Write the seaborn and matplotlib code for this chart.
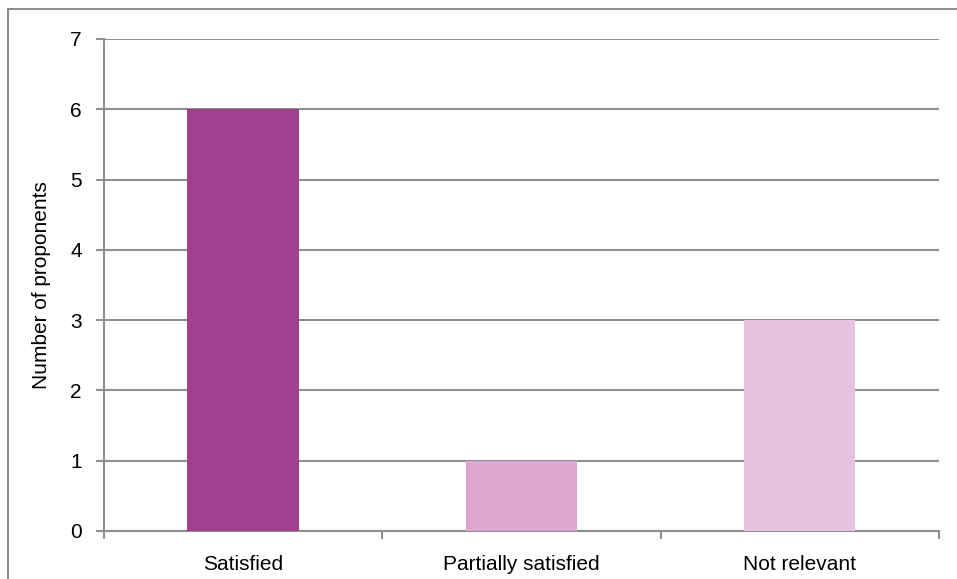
import seaborn as sns
import numpy as np
import matplotlib.pyplot as plt
import pandas as pd
from matplotlib.patches import Rectangle

categories = ["Satisfied", "Partially satisfied", "Not relevant"]
values = [6, 1, 3]
bar_colors = ["#A0418F", "#DDA6CF", "#E7C3E1"]
y_ticks = [0, 1, 2, 3, 4, 5, 6, 7]

sns.set_theme(style='white')
plt.rcParams['font.family'] = ['Liberation Sans', 'DejaVu Sans']

grid_gray = "#8F8F8F"

df = pd.DataFrame({"category": categories, "value": values})

fig = plt.figure(figsize=(9.57, 5.79), dpi=100)
ax = fig.add_axes([104/957, 48/579, (939-104)/957, (531-39)/579])

sns.barplot(data=df, x="category", y="value", hue="category",
            palette=bar_colors, width=0.4, saturation=1, legend=False,
            linewidth=0, edgecolor='none', ax=ax, zorder=3)

ax.set_xlim(-0.5, 2.5)
ax.set_ylim(0, 7)
ax.set_yticks(y_ticks)
ax.set_yticklabels([str(v) for v in y_ticks])

# gridlines
ax.yaxis.grid(True, color=grid_gray, linewidth=1.5, zorder=0)
ax.set_axisbelow(True)

# spines
for s in ['top', 'right']:
    ax.spines[s].set_visible(False)
for s in ['left', 'bottom']:
    ax.spines[s].set_color(grid_gray)
    ax.spines[s].set_linewidth(1.5)

# ticks: y outward, x ticks at the category boundaries
ax.tick_params(axis='y', direction='out', length=6, width=1.5, color=grid_gray,
               labelsize=15, pad=10, left=True, labelcolor='black')
ax.set_xticks([0, 1, 2])
ax.set_xticklabels(categories)
ax.set_xticks([-0.5, 0.5, 1.5, 2.5], minor=True)
ax.tick_params(axis='x', which='major', length=0, labelsize=15, pad=17,
               labelcolor='black')
ax.tick_params(axis='x', which='minor', direction='out', length=6, width=1.5,
               color=grid_gray, bottom=True)

ax.set_xlabel("")
ax.set_ylabel("Number of proponents", fontsize=15, color='black', labelpad=14)

# outer chart border
fig.patches.append(Rectangle((8/957, -0.1), 1.2, 1 - 9/579 + 0.1,
                             transform=fig.transFigure, fill=False,
                             edgecolor=grid_gray, linewidth=1.5))

plt.savefig("out.png", dpi=100)
